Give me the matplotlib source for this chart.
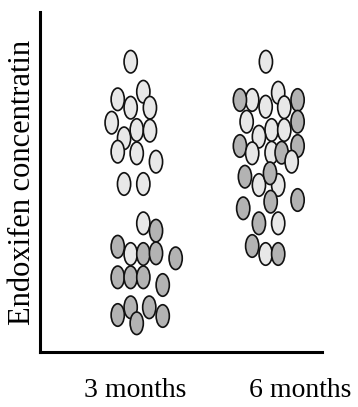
import numpy as np
import matplotlib
matplotlib.use("Agg")
import matplotlib.pyplot as plt
from matplotlib.patches import Ellipse

# group labels and where they sit on the x axis
groups = ['3 months', '6 months']
label_pos = [0.985, 2.235]

# 3 months: x position, concentration, dark (1) / light (0)
x_3m = [0.952, 1.048, 0.854, 0.952, 1.098, 0.808, 0.902, 0.998, 1.098, 0.854, 0.998, 1.144, 0.902, 1.048,
        1.048, 1.144, 0.854, 0.952, 1.048, 1.144, 1.293, 0.854, 0.952, 1.048, 1.195, 0.854, 0.952, 0.998, 1.093, 1.195]
y_3m = [29.03, 26.03, 25.27, 24.43, 24.43, 22.93, 21.37, 22.2, 22.13, 20.03, 19.87, 19.03, 16.8, 16.8,
        12.87, 12.13, 10.53, 9.8, 9.8, 9.87, 9.37, 7.47, 7.47, 7.47, 6.7, 3.7, 4.47, 2.87, 4.47, 3.6]
d_3m = [0, 0, 0, 0, 0, 0, 0, 0, 0, 0, 0, 0, 0, 0,
        0, 1, 1, 0, 1, 1, 1, 1, 1, 1, 1, 1, 1, 1, 1, 1]

# 6 months
x_6m = [1.977, 2.070, 1.873, 1.975, 2.116, 1.780, 2.217, 1.831, 2.217, 2.020, 2.116, 1.924, 1.780, 1.873,
        2.020, 2.096, 2.217, 2.172, 1.924, 2.070, 1.818, 2.008, 1.805, 2.013, 2.217, 1.924, 2.070, 1.873,
        1.975, 2.070]
y_6m = [29.03, 25.93, 25.2, 24.53, 24.47, 25.2, 25.2, 23.03, 23.03, 22.2, 22.2, 21.53, 20.6, 19.87,
        19.93, 19.93, 20.6, 19.03, 16.7, 16.7, 17.53, 17.87, 14.37, 15.03, 15.2, 12.87, 12.87, 10.6,
        9.8, 9.8]
d_6m = [0, 0, 0, 0, 0, 1, 1, 0, 1, 0, 0, 0, 1, 0,
        0, 1, 1, 0, 0, 0, 1, 1, 1, 1, 1, 1, 0, 1,
        0, 1]

light = '#e8e8e8'
dark = '#b3b3b3'

fig = plt.figure(figsize=(3.58, 4.07), dpi=100)
ax = fig.add_axes([40/358, 55/407, 282/358, 340/407])
ax.set_xlim(0.265, 2.402)
ax.set_ylim(0, 34)

for xs, ys, ds in [(x_3m, y_3m, d_3m), (x_6m, y_6m, d_6m)]:
    for x, y, d in zip(xs, ys, ds):
        ax.add_patch(Ellipse((x, y), 0.1, 2.25, facecolor=dark if d else light,
                             edgecolor='#111111', linewidth=1.2))

for s in ['top', 'right']:
    ax.spines[s].set_visible(False)
for s in ['left', 'bottom']:
    ax.spines[s].set_linewidth(2.2)

ax.set_yticks([])
ax.set_xticks(label_pos)
ax.set_xticklabels(groups, fontsize=20, family='Liberation Serif')
ax.tick_params(axis='x', length=0, pad=19)
ax.set_ylabel('Endoxifen concentratin', fontsize=22, family='Liberation Serif', labelpad=2)

fig.savefig('out.png', dpi=100)
